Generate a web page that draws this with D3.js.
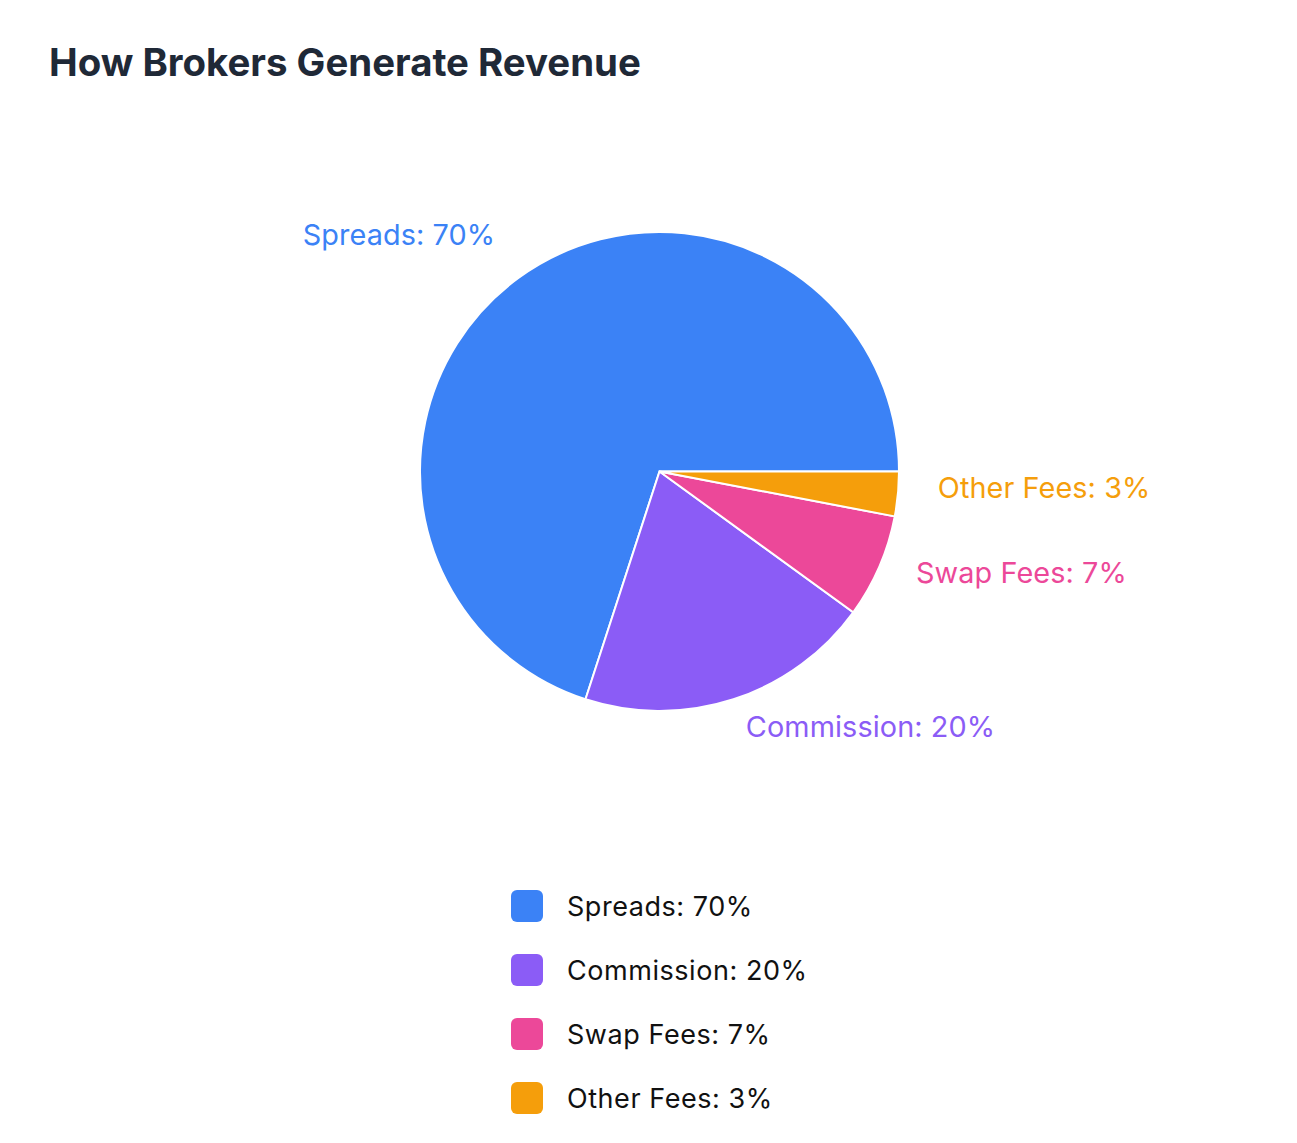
<!DOCTYPE html>
<meta charset="utf-8">
<script src="https://d3js.org/d3.v7.min.js"></script>
<style>
  body { margin: 0; background: #fff; font-family: Inter, "Noto Sans", sans-serif; }
</style>
<div id="my_dataviz"></div>
<script>

  // data
  var categories = ["Spreads", "Commission", "Swap Fees", "Other Fees"];
  var values = [70, 20, 7, 3];
  var colors = ["#3b82f6", "#8b5cf6", "#ec4899", "#f59e0b"];

  var width = 1297, height = 1143;
  var cx = 659.5, cy = 471.5, radius = 239.5;

  var data = categories.map(function (c, i) {
    return { name: c, value: values[i], color: colors[i] };
  });

  var svg = d3.select("#my_dataviz")
    .append("svg")
    .attr("width", width)
    .attr("height", height);

  // title
  svg.append("text")
    .attr("x", 49)
    .attr("y", 76)
    .attr("fill", "#1f2937")
    .attr("font-size", 38.4)
    .attr("font-weight", 700)
    .text("How Brokers Generate Revenue");

  // pie starts at 3 o'clock and runs counter-clockwise
  var pie = d3.pie()
    .value(function (d) { return d.value; })
    .sort(null)
    .startAngle(Math.PI / 2)
    .endAngle(Math.PI / 2 - 2 * Math.PI);

  var arc = d3.arc().innerRadius(0).outerRadius(radius);

  var g = svg.append("g")
    .attr("transform", "translate(" + cx + "," + cy + ")");

  var arcs = pie(data);

  g.selectAll("path")
    .data(arcs)
    .join("path")
    .attr("d", arc)
    .attr("fill", function (d) { return d.data.color; })
    .attr("stroke", "#fff")
    .attr("stroke-width", 2);

  // outside labels
  g.selectAll("text.lbl")
    .data(arcs)
    .join("text")
    .attr("class", "lbl")
    .attr("transform", function (d) {
      var a = (d.startAngle + d.endAngle) / 2;
      var r = radius + 40;
      return "translate(" + (Math.sin(a) * r) + "," + (-Math.cos(a) * r) + ")";
    })
    .attr("text-anchor", function (d) {
      var a = (d.startAngle + d.endAngle) / 2;
      return Math.sin(a) >= 0 ? "start" : "end";
    })
    .attr("fill", function (d) { return d.data.color; })
    .attr("font-size", 28.8)
    .attr("letter-spacing", 0.1)
    .text(function (d) { return d.data.name + ": " + d.data.value + "%"; });

  // legend
  var legend = svg.append("g")
    .attr("transform", "translate(511,890)");

  var rows = legend.selectAll("g")
    .data(data)
    .join("g")
    .attr("transform", function (d, i) { return "translate(0," + (i * 64) + ")"; });

  rows.append("rect")
    .attr("width", 32)
    .attr("height", 32)
    .attr("rx", 6)
    .attr("fill", function (d) { return d.color; });

  rows.append("text")
    .attr("x", 56)
    .attr("y", 26)
    .attr("fill", "#111111")
    .attr("font-size", 27)
    .attr("letter-spacing", 0.55)
    .text(function (d) { return d.name + ": " + d.value + "%"; });

</script>
